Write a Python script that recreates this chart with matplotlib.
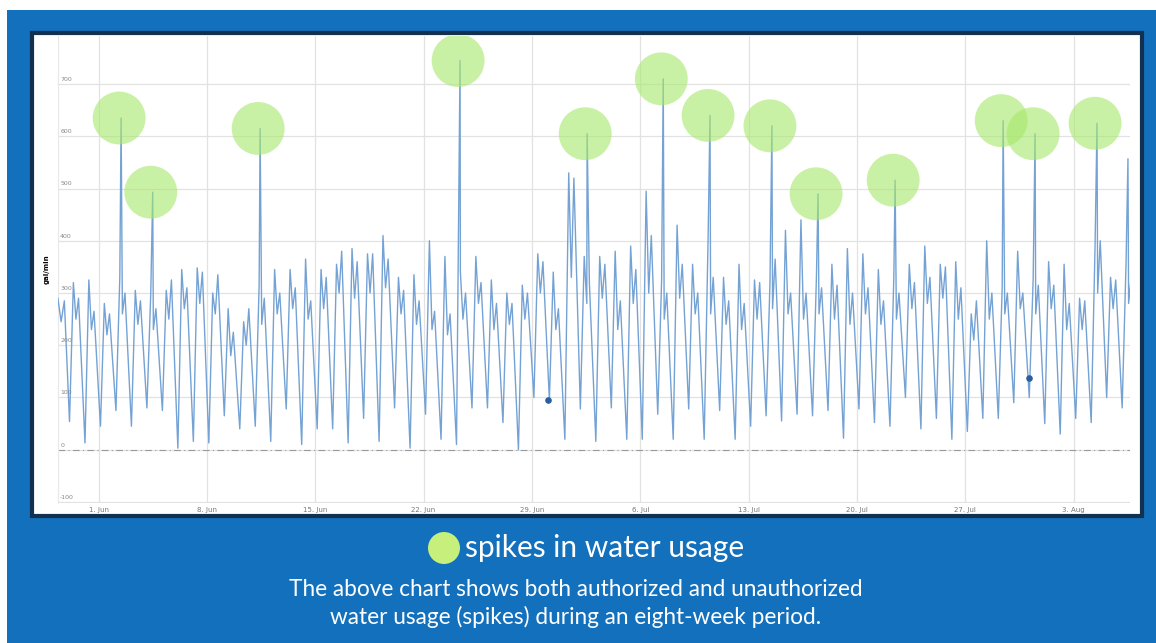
import pandas as pd
import matplotlib.pyplot as plt
import matplotlib.patches as patches

# daily values (gal/min), one entry per day from 30 May
trough = [54, 13, 45, 75, 45, 80, 75, 3, 16, 13,
          65, 40, 45, 16, 78, 10, 40, 40, 13, 60,
          16, 80, 3, 68, 20, 10, 80, 80, 52, 0,
          100, 95, 20, 78, 16, 80, 20, 20, 68, 20,
          78, 20, 75, 20, 45, 65, 55, 68, 65, 75,
          22, 78, 52, 45, 100, 40, 60, 20, 35, 60,
          60, 90, 100, 50, 30, 60, 52, 100, 80]
peak_am = [320, 325, 280, 330, 305, 300, 305, 345, 348, 300,
           270, 245, 315, 345, 345, 365, 345, 355, 385, 375,
           410, 330, 335, 400, 370, 340, 370, 325, 300, 315,
           375, 340, 530, 370, 370, 380, 390, 495, 325, 430,
           355, 400, 330, 355, 325, 320, 420, 440, 330, 355,
           385, 375, 345, 330, 355, 390, 355, 360, 260, 400,
           310, 380, 325, 360, 355, 290, 390, 330, 355]
dip = [250, 230, 220, 260, 240, 230, 250, 270, 280, 260,
       180, 200, 240, 260, 270, 250, 270, 300, 290, 300,
       310, 260, 240, 230, 220, 250, 280, 230, 240, 250,
       300, 230, 330, 280, 290, 230, 280, 300, 250, 290,
       260, 260, 240, 230, 250, 270, 260, 250, 260, 250,
       240, 260, 240, 250, 270, 280, 290, 250, 210, 250,
       260, 270, 260, 270, 230, 230, 300, 270, 280]
peak_pm = [290, 265, 260, 300, 285, 270, 325, 310, 340, 335,
           225, 270, 290, 300, 310, 285, 330, 380, 360, 375,
           365, 305, 285, 265, 260, 300, 320, 280, 280, 300,
           360, 270, 520, 320, 355, 285, 345, 410, 300, 355,
           300, 330, 285, 280, 320, 365, 300, 300, 310, 315,
           300, 310, 285, 300, 320, 330, 350, 310, 285, 300,
           300, 300, 315, 315, 280, 285, 400, 325, 330]

lead_times = ["2017-05-29 09:00", "2017-05-29 14:00", "2017-05-29 19:00"]
lead_vals = [290, 245, 285]

# circled spikes
spike_times = ["2017-06-02 11:00", "2017-06-04 12:00", "2017-06-11 10:30",
               "2017-06-24 08:30", "2017-07-02 13:30", "2017-07-07 11:30",
               "2017-07-10 12:00", "2017-07-14 12:00", "2017-07-17 11:30",
               "2017-07-22 11:00", "2017-07-29 10:30", "2017-07-31 12:00",
               "2017-08-04 12:00"]
spike_vals = [635, 493, 615, 745, 605, 710, 640, 620, 490, 516, 630, 605, 625]
other_times = ["2017-08-06 12:00"]
other_vals = [557]

dot_times = ["2017-06-30 01:00", "2017-07-31 03:00"]
dot_vals = [96, 138]

week_ticks = pd.date_range("2017-06-01", "2017-08-03", freq="7D")
y_ticks = [-100, 0, 100, 200, 300, 400, 500, 600, 700]

# build series
days = pd.date_range("2017-05-30", periods=len(trough), freq="D")
t = [pd.Timestamp(s) for s in lead_times]
v = list(lead_vals)
for d, a, b, c, e in zip(days, trough, peak_am, dip, peak_pm):
    t += [d + pd.Timedelta(hours=3), d + pd.Timedelta(hours=9),
          d + pd.Timedelta(hours=13), d + pd.Timedelta(hours=17)]
    v += [a, b, c, e]
t += [pd.Timestamp(s) for s in spike_times + other_times]
v += spike_vals + other_vals
df = pd.DataFrame({"t": t, "v": v}).sort_values("t")

W, H = 1156, 643
fig = plt.figure(figsize=(W / 100, H / 100), dpi=100, facecolor="white")
fig.patches.append(patches.Rectangle((7 / W, 0), 1, (H - 10) / H, transform=fig.transFigure,
                                     facecolor="#1270bd", edgecolor="none", zorder=0))
fig.patches.append(patches.Rectangle((32 / W, (H - 516) / H), 1110 / W, 483 / H,
                                     transform=fig.transFigure, facecolor="white",
                                     edgecolor="#12304f", linewidth=3, zorder=1))

ax = fig.add_axes([58 / W, (H - 503) / H, 1072 / W, 467 / H])
ax.set_zorder(3)
ax.set_facecolor("white")
ax.plot(df["t"], df["v"], color="#74a2d4", lw=1.0, zorder=3)
ax.scatter(pd.to_datetime(dot_times), dot_vals, s=14, color="#2a5f9e", zorder=4)
ax.scatter(pd.to_datetime(spike_times) - pd.Timedelta(hours=3), spike_vals, s=1450,
           color="#a6e86a", alpha=0.6, edgecolors="none", zorder=5)
ax.axhline(0, color="#9a9a9a", lw=0.8, ls=(0, (6, 3, 1, 3)), zorder=2)

ax.set_xlim(pd.Timestamp("2017-05-29 09:10"), pd.Timestamp("2017-08-06 15:10"))
ax.set_ylim(-102, 792)
ax.set_xticks(week_ticks)
ax.set_xticklabels([f"{d.day}. {d.strftime('%b')}" for d in week_ticks],
                   fontsize=5, color="#777777")
ax.set_yticks(y_ticks)
ax.set_yticklabels([])
ax.tick_params(length=0, pad=3)
ax.grid(True, color="#e2e2e2", lw=0.9, zorder=0)
ax.set_axisbelow(True)
for s in ["top", "right", "bottom"]:
    ax.spines[s].set_visible(False)
ax.spines["left"].set_color("#e8e8e8")

for y in y_ticks:
    ax.text(0.002, y + 4, str(y), transform=ax.get_yaxis_transform(), fontsize=4.5,
            color="#888888", ha="left", va="bottom", zorder=6)
ax.text(-0.0105, 0.5, "gal/min", transform=ax.transAxes, rotation=90, fontsize=5,
        fontweight="bold", ha="center", va="center")

# legend and caption
fig.patches.append(patches.Ellipse((444 / W, (H - 548) / H), 32 / W, 32 / H,
                                   transform=fig.transFigure, facecolor="#c6ef7c",
                                   edgecolor="none", zorder=2))
fig.text(465 / W, (H - 548) / H, "spikes in water usage", color="white", fontsize=21.5,
         family="Lato", ha="left", va="center")
fig.text(576 / W, (H - 590) / H, "The above chart shows both authorized and unauthorized",
         color="white", fontsize=16.3, family="Lato", ha="center", va="center")
fig.text(576 / W, (H - 617) / H, "water usage (spikes) during an eight-week period.",
         color="white", fontsize=16.3, family="Lato", ha="center", va="center")

fig.savefig("out.png", dpi=100)
